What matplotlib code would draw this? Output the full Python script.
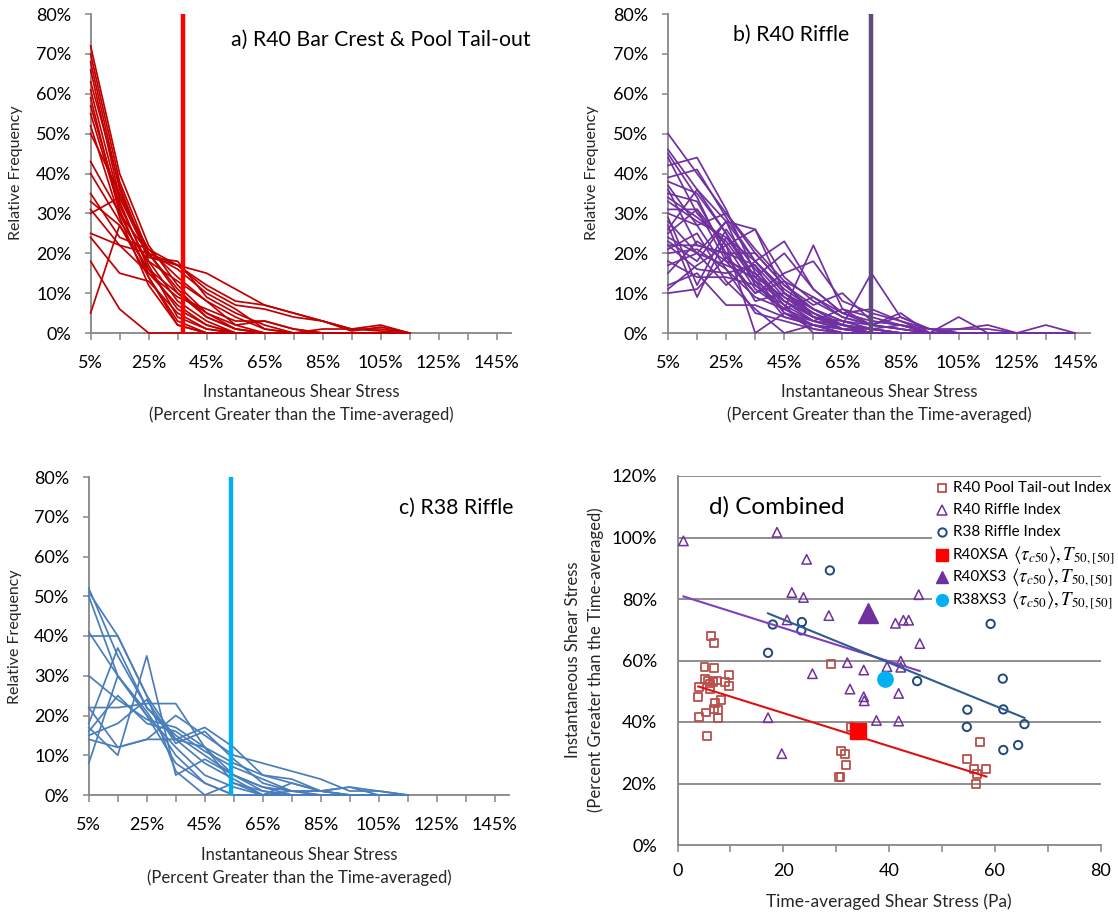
import numpy as np
import matplotlib
matplotlib.use("Agg")
import matplotlib.pyplot as plt
from matplotlib.lines import Line2D
from matplotlib.patches import Rectangle

plt.rcParams['font.family'] = ['Lato', 'DejaVu Sans']
plt.rcParams['mathtext.fontset'] = 'stix'

# ---------------------------------------------------------------- data
# bin centres (percent greater than the time-averaged shear stress)
bins_pct = [5, 15, 25, 35, 45, 55, 65, 75, 85, 95, 105, 115, 125, 135, 145]
labelled_bins = [5, 25, 45, 65, 85, 105, 125, 145]

# a) R40 bar crest & pool tail-out: relative frequency (%) per bin
r40_pool_freq = [
    [72, 40, 22, 12, 5, 2, 0, 0, 0, 0, 0, 0],
    [70, 38, 20, 10, 4, 1, 0, 0, 0, 0, 0, 0],
    [68, 36, 19, 17, 12, 8, 7, 5, 3, 1, 2, 0],
    [66, 34, 21, 17, 11, 7, 6, 4, 3, 1, 1, 0],
    [63, 37, 18, 8, 3, 0, 0, 0, 0, 0, 0, 0],
    [61, 33, 16, 6, 2, 0, 0, 0, 0, 0, 0, 0],
    [59, 30, 15, 9, 6, 3, 3, 1, 0, 0, 0, 0],
    [57, 32, 17, 4, 1, 0, 0, 0, 0, 0, 0, 0],
    [55, 31, 14, 3, 0, 0, 0, 0, 0, 0, 0, 0],
    [52, 29, 12, 2, 0, 0, 0, 0, 0, 0, 0, 0],
    [50, 35, 20, 11, 4, 1, 0, 0, 0, 0, 0, 0],
    [43, 30, 20, 16, 10, 6, 1, 0, 1, 1, 0.5, 0],
    [40, 28, 18, 13, 8, 2, 3, 1, 0, 0, 0, 0],
    [35, 24, 21, 14, 8, 4, 1, 0, 0, 0, 0, 0],
    [33, 27, 16, 10, 5, 1, 0, 0, 0, 0, 0, 0],
    [31, 22, 15, 7, 2, 0, 0, 0, 0, 0, 0, 0],
    [30, 34, 19, 18, 9, 5, 2, 0, 0, 0, 0, 0],
    [25, 22, 20, 17, 15, 11, 7, 5, 3, 0.5, 1.5, 0],
    [24, 15, 13, 5, 1, 0, 0, 0, 0, 0, 0, 0],
    [18, 6, 0, 0, 0, 0, 0, 0, 0, 0, 0, 0],
    [5, 27, 14, 2, 0, 0, 0, 0, 0, 0, 0, 0],
]
r40_pool_t50 = 37

# b) R40 riffle
r40_riffle_freq = [
    [50, 40, 30, 20, 12, 6, 3, 1, 0, 0, 0, 0, 0, 0, 0],
    [46, 36, 28, 18, 10, 5, 2, 0, 0, 0, 0, 0, 0, 0, 0],
    [45, 34, 19, 13, 8, 3, 6, 4, 2, 0, 0, 0, 0, 0, 0],
    [44, 30, 22, 26, 14, 8, 4, 2, 1, 0, 0, 0, 0, 0, 0],
    [42, 44, 31, 15, 8, 4, 2, 1, 0, 0, 0, 0, 0, 0, 0],
    [39, 41, 29, 18, 23, 11, 5, 3, 2, 1, 0, 0, 0, 0, 0],
    [38, 35, 25, 12, 6, 22, 6, 2, 1, 0, 0, 0, 0, 0, 0],
    [37, 27, 16, 9, 6, 3, 2, 1, 0, 0, 0, 0, 0, 0, 0],
    [36, 22, 20, 20, 12, 7, 10, 3, 2, 0, 4, 0, 0, 0, 0],
    [35, 33, 20, 17, 9, 4, 2, 15, 4, 1, 0, 0, 0, 0, 0],
    [34, 29, 23, 13, 4, 2, 0, 0, 0, 0, 0, 0, 0, 0, 0],
    [33, 28, 24, 14, 5, 3, 1, 0, 0, 0, 0, 0, 0, 0, 0],
    [31, 31, 18, 10, 15, 18, 8, 5, 3, 1, 1, 2, 0, 2, 0],
    [30, 27, 30, 21, 13, 9, 4, 2, 5, 0, 0, 0, 0, 0, 0],
    [29, 12, 26, 16, 8, 4, 1, 0, 0, 0, 0, 0, 0, 0, 0],
    [28, 20, 17, 14, 20, 11, 5, 2, 4, 1, 0, 0, 0, 0, 0],
    [27, 9, 24, 18, 10, 5, 2, 1, 0, 0, 0, 0, 0, 0, 0],
    [26, 36, 25, 14, 9, 5, 1, 1, 2, 0, 1, 1, 0, 0, 0],
    [25, 31, 22, 11, 6, 2, 0, 0, 0, 0, 0, 0, 0, 0, 0],
    [24, 20, 28, 26, 10, 4, 2, 0, 0, 0, 0, 0, 0, 0, 0],
    [23, 18, 28, 12, 7, 3, 1, 0, 0, 0, 0, 0, 0, 0, 0],
    [22, 22, 20, 8, 10, 6, 3, 2, 1, 0, 0, 0, 0, 0, 0],
    [22, 16, 15, 17, 5, 1, 0, 0, 0, 0, 0, 0, 0, 0, 0],
    [21, 25, 13, 6, 0, 2, 1, 0, 0, 0, 0, 0, 0, 0, 0],
    [20, 21, 16, 5, 3, 1, 0, 0, 0, 0, 0, 0, 0, 0, 0],
    [18, 14, 14, 12, 6, 9, 5, 6, 3, 0, 0, 0, 0, 0, 0],
    [17, 20, 12, 18, 11, 6, 2, 0, 0, 0, 0, 0, 0, 0, 0],
    [15, 23, 18, 15, 7, 0, 0, 0, 0, 0, 0, 0, 0, 0, 0],
    [12, 15, 7, 7, 4, 2, 0, 0, 0, 0, 0, 0, 0, 0, 0],
    [11, 17, 22, 0, 5, 2, 1, 0, 0, 0, 0, 0, 0, 0, 0],
    [10, 11, 19, 10, 13, 4, 3, 1, 0, 0, 0, 0, 0, 0, 0],
]
r40_riffle_t50 = 75

# c) R38 riffle
r38_riffle_freq = [
    [52, 35, 22, 15, 10, 5, 1, 0, 0, 0, 0, 0],
    [51, 40, 25, 14, 8, 4, 0, 0, 0, 0, 0, 0],
    [50, 30, 20, 12, 5, 2, 0, 0, 0, 0, 0, 0],
    [41, 30, 21, 10, 3, 0, 0, 0, 0, 0, 0, 0],
    [40, 40, 25, 6, 0, 3, 1, 0, 0, 0, 0, 0],
    [30, 24, 19, 17, 12, 8, 5, 3, 1, 0, 0, 0],
    [22, 22, 23, 23, 12, 5, 2, 1, 0, 0, 0, 0],
    [22, 12, 14, 20, 15, 10, 8, 6, 4, 1, 1, 0],
    [18, 37, 22, 14, 17, 12, 5, 4, 1, 2, 0, 0],
    [17, 10, 35, 5, 9, 5, 2, 0, 0, 0, 0, 0],
    [16, 25, 18, 16, 11, 7, 4, 1, 1, 0, 0, 0],
    [15, 18, 24, 13, 16, 9, 3, 1, 0, 0, 0, 0],
    [14, 12, 14, 14, 12, 3, 0, 1, 1, 2, 1, 0],
    [8, 30, 20, 8, 3, 0, 0, 3, 1, 0, 0, 0],
]
r38_riffle_t50 = 54

# d) combined: time-averaged shear stress (Pa) vs instantaneous excess (%)
pool_tau = [4.0, 3.9, 4.1, 5.3, 5.6, 5.1, 6.9, 6.3, 6.9, 5.2, 5.7, 6.2, 6.8,
            7.4, 6.2, 7.1, 6.9, 7.6, 7.7, 8.2, 8.9, 9.7, 9.7, 29.0, 32.7,
            30.9, 31.7, 31.8, 30.5, 30.8, 54.8, 56.0, 56.7, 56.5, 57.2, 58.4]
pool_exc = [51.5, 48.1, 41.6, 43.1, 35.4, 57.8, 57.5, 68.1, 65.8, 54.0, 53.5,
            52.5, 53.0, 53.5, 50.8, 46.1, 44.2, 44.0, 41.4, 47.2, 53.1, 55.2,
            51.7, 59.0, 38.5, 30.6, 29.5, 26.0, 22.2, 22.2, 28.0, 24.6, 23.1,
            19.8, 33.5, 24.7]
r40rif_tau = [1.1, 18.8, 24.4, 21.6, 23.8, 20.7, 28.6, 45.6, 41.2, 42.7, 43.7,
              45.8, 25.5, 32.1, 35.2, 39.6, 42.2, 42.2, 32.6, 35.2, 35.3, 41.8,
              37.6, 41.8, 17.1, 19.7]
r40rif_exc = [98.9, 101.7, 92.9, 82.1, 80.5, 73.2, 74.6, 81.4, 72.1, 73.1, 73.1,
              65.5, 55.7, 59.3, 56.9, 58.0, 59.8, 57.8, 50.7, 48.2, 46.9, 49.3,
              40.5, 40.3, 41.4, 29.7]
r38rif_tau = [28.8, 18.0, 23.5, 23.4, 17.1, 59.2, 45.3, 61.5, 54.8, 61.6, 54.7,
              65.6, 61.6, 64.4]
r38rif_exc = [89.3, 71.7, 72.5, 69.8, 62.5, 71.9, 53.3, 54.1, 44.0, 44.1, 38.4,
              39.3, 30.9, 32.5]
xs_tau = [34.2, 36.1, 39.3]          # R40XSA, R40XS3, R38XS3
xs_exc = [37.2, 75.5, 54.0]

legend_names = ['R40 Pool Tail-out Index', 'R40 Riffle Index', 'R38 Riffle Index',
                'R40XSA', 'R40XS3', 'R38XS3']
legend_suffix = ['', '', '',
                 r'$\langle\tau_{c50}\rangle,T_{50,[50]}$',
                 r'$\langle\tau_{c50}\rangle,T_{50,[50]}$',
                 r'$\langle\tau_{c50}\rangle,T_{50,[50]}$']

# ---------------------------------------------------------------- figure
W, H = 1118, 915
fig = plt.figure(figsize=(W / 100, H / 100), dpi=100)
GREY = '#868686'
TXT = '#262626'


def px_axes(left, top, right, bottom):
    return fig.add_axes([left / W, 1 - bottom / H, (right - left) / W, (bottom - top) / H])


def ftext(x, y, s, **kw):
    return fig.text(x / W, 1 - y / H, s, **kw)


def freq_panel(ax, series, color, t50, vcolor):
    for s in series:
        ax.plot(bins_pct[:len(s)], s, color=color, lw=1.25, zorder=3, clip_on=False)
    ax.axvline(t50, color=vcolor, lw=3.2, zorder=4)
    ax.set_xlim(5, 150)
    ax.set_ylim(0, 80)
    ax.set_xticks(bins_pct)
    ax.set_xticklabels([f'{b}%' if b in labelled_bins else '' for b in bins_pct])
    ax.set_yticks(range(0, 81, 10))
    ax.set_yticklabels([f'{v}%' for v in range(0, 81, 10)])
    for side in ('top', 'right'):
        ax.spines[side].set_visible(False)
    for side in ('left', 'bottom'):
        ax.spines[side].set_color(GREY)
        ax.spines[side].set_linewidth(1.3)
    ax.tick_params(axis='x', length=5, width=1.1, color=GREY, pad=11, labelsize=13)
    ax.tick_params(axis='y', length=4, width=1.1, color=GREY, pad=10, labelsize=13)


ax_a = px_axes(90.6, 14, 511, 333)
freq_panel(ax_a, r40_pool_freq, '#C00000', r40_pool_t50, '#FF0000')
ax_b = px_axes(668, 14, 1089.5, 333)
freq_panel(ax_b, r40_riffle_freq, '#7030A0', r40_riffle_t50, '#5F4A7D')
ax_c = px_axes(88.8, 477, 509, 795)
freq_panel(ax_c, r38_riffle_freq, '#4A7EBB', r38_riffle_t50, '#00B0F0')

ftext(231, 40, 'a) R40 Bar Crest & Pool Tail-out', fontsize=15.3, va='center')
ftext(733, 35, 'b) R40 Riffle', fontsize=15.3, va='center')
ftext(399, 508, 'c) R38 Riffle', fontsize=15.3, va='center')

for (xc, yc) in ((16, 173), (592, 173), (15, 637)):
    ftext(xc, yc, 'Relative Frequency', fontsize=11.5, rotation=90,
          ha='center', va='center', color=TXT)
for (xc, y1) in ((301, 392), (879, 392), (299, 855)):
    ftext(xc, y1, 'Instantaneous Shear Stress', fontsize=12, ha='center',
          va='center', color=TXT)
    ftext(xc, y1 + 22.5, '(Percent Greater than the Time-averaged)', fontsize=12,
          ha='center', va='center', color=TXT)

# ---------------------------------------------------------------- panel d
ax_d = px_axes(677.6, 476, 1100.6, 845)
ax_d.set_xlim(0, 80)
ax_d.set_ylim(0, 120)
for g in range(20, 121, 20):
    ax_d.axhline(g, color=GREY, lw=1.3, zorder=1)
ax_d.set_xticks(range(0, 81, 20))
ax_d.set_xticks(range(10, 80, 20), minor=True)
ax_d.set_yticks(range(0, 121, 20))
ax_d.set_yticklabels([f'{v}%' for v in range(0, 121, 20)])
for side in ('top', 'right'):
    ax_d.spines[side].set_visible(False)
for side in ('left', 'bottom'):
    ax_d.spines[side].set_color(GREY)
    ax_d.spines[side].set_linewidth(1.3)
ax_d.tick_params(axis='x', which='both', length=5, width=1.1, color=GREY, pad=8, labelsize=13)
ax_d.tick_params(axis='y', length=0, pad=15, labelsize=13)

SQ_C, TRI_C, CIR_C = '#B8504B', '#7030A0', '#1F497D'
ax_d.scatter(pool_tau, pool_exc, marker='s', s=32, facecolors='none',
             edgecolors=SQ_C, linewidths=1.3, zorder=3)
ax_d.scatter(r40rif_tau, r40rif_exc, marker='^', s=46, facecolors='none',
             edgecolors=TRI_C, linewidths=1.1, zorder=3)
ax_d.scatter(r38rif_tau, r38rif_exc, marker='o', s=36, facecolors='none',
             edgecolors=CIR_C, linewidths=1.4, zorder=3)

for xv, yv, col in ((pool_tau, pool_exc, '#E01010'),
                    (r40rif_tau, r40rif_exc, '#7F3FBF'),
                    (r38rif_tau, r38rif_exc, '#2E5C8E')):
    k, b = np.polyfit(xv, yv, 1)
    xl = np.array([min(xv), max(xv)])
    ax_d.plot(xl, k * xl + b, color=col, lw=1.5, zorder=4)

ax_d.plot(xs_tau[0], xs_exc[0], marker='s', ms=11.5, color='#FF0000', ls='none', zorder=5)
ax_d.plot(xs_tau[1], xs_exc[1], marker='^', ms=15, color='#7030A0', ls='none', zorder=5)
ax_d.plot(xs_tau[2], xs_exc[2], marker='o', ms=11, color='#00B0F0', ls='none', zorder=5)

ftext(709, 507, 'd) Combined', fontsize=17.5, va='center')
ftext(573, 660, 'Instantaneous Shear Stress', fontsize=12, rotation=90,
      ha='center', va='center', color=TXT)
ftext(596, 660, '(Percent Greater than the Time-averaged)', fontsize=12,
      rotation=90, ha='center', va='center', color=TXT)
ftext(889, 902, 'Time-averaged Shear Stress (Pa)', fontsize=12.5, ha='center',
      va='center', color=TXT)

# key, laid out row by row on a white panel over the plot
fig.add_artist(Rectangle((932 / W, 1 - 611 / H), (W - 932) / W, 133 / H,
                         transform=fig.transFigure, facecolor='white',
                         edgecolor='none', zorder=1))
key_styles = [
    dict(marker='s', ms=5.5, mfc='none', mec=SQ_C, mew=1.3),
    dict(marker='^', ms=6.5, mfc='none', mec=TRI_C, mew=1.1),
    dict(marker='o', ms=6, mfc='none', mec=CIR_C, mew=1.4),
    dict(marker='s', ms=8, mfc='#FF0000', mec='#FF0000'),
    dict(marker='^', ms=9, mfc='#7030A0', mec='#7030A0'),
    dict(marker='o', ms=8.5, mfc='#00B0F0', mec='#00B0F0'),
]
key_rows = [488, 510, 532, 555, 577, 600]
renderer = fig.canvas.get_renderer()
for yrow, style, name, suffix in zip(key_rows, key_styles, legend_names, legend_suffix):
    fig.add_artist(Line2D([942 / W], [1 - yrow / H], ls='none',
                          transform=fig.transFigure, zorder=2, **style))
    t = ftext(953, yrow, name, fontsize=11, va='center', ha='left',
              color='black', zorder=3)
    if suffix:
        x_end = t.get_window_extent(renderer).x1
        fig.text((x_end + 4) / W, 1 - (yrow + 1) / H, suffix, fontsize=13.5,
                 va='center', ha='left', color='black', zorder=3)

fig.savefig('out.png', dpi=100)
